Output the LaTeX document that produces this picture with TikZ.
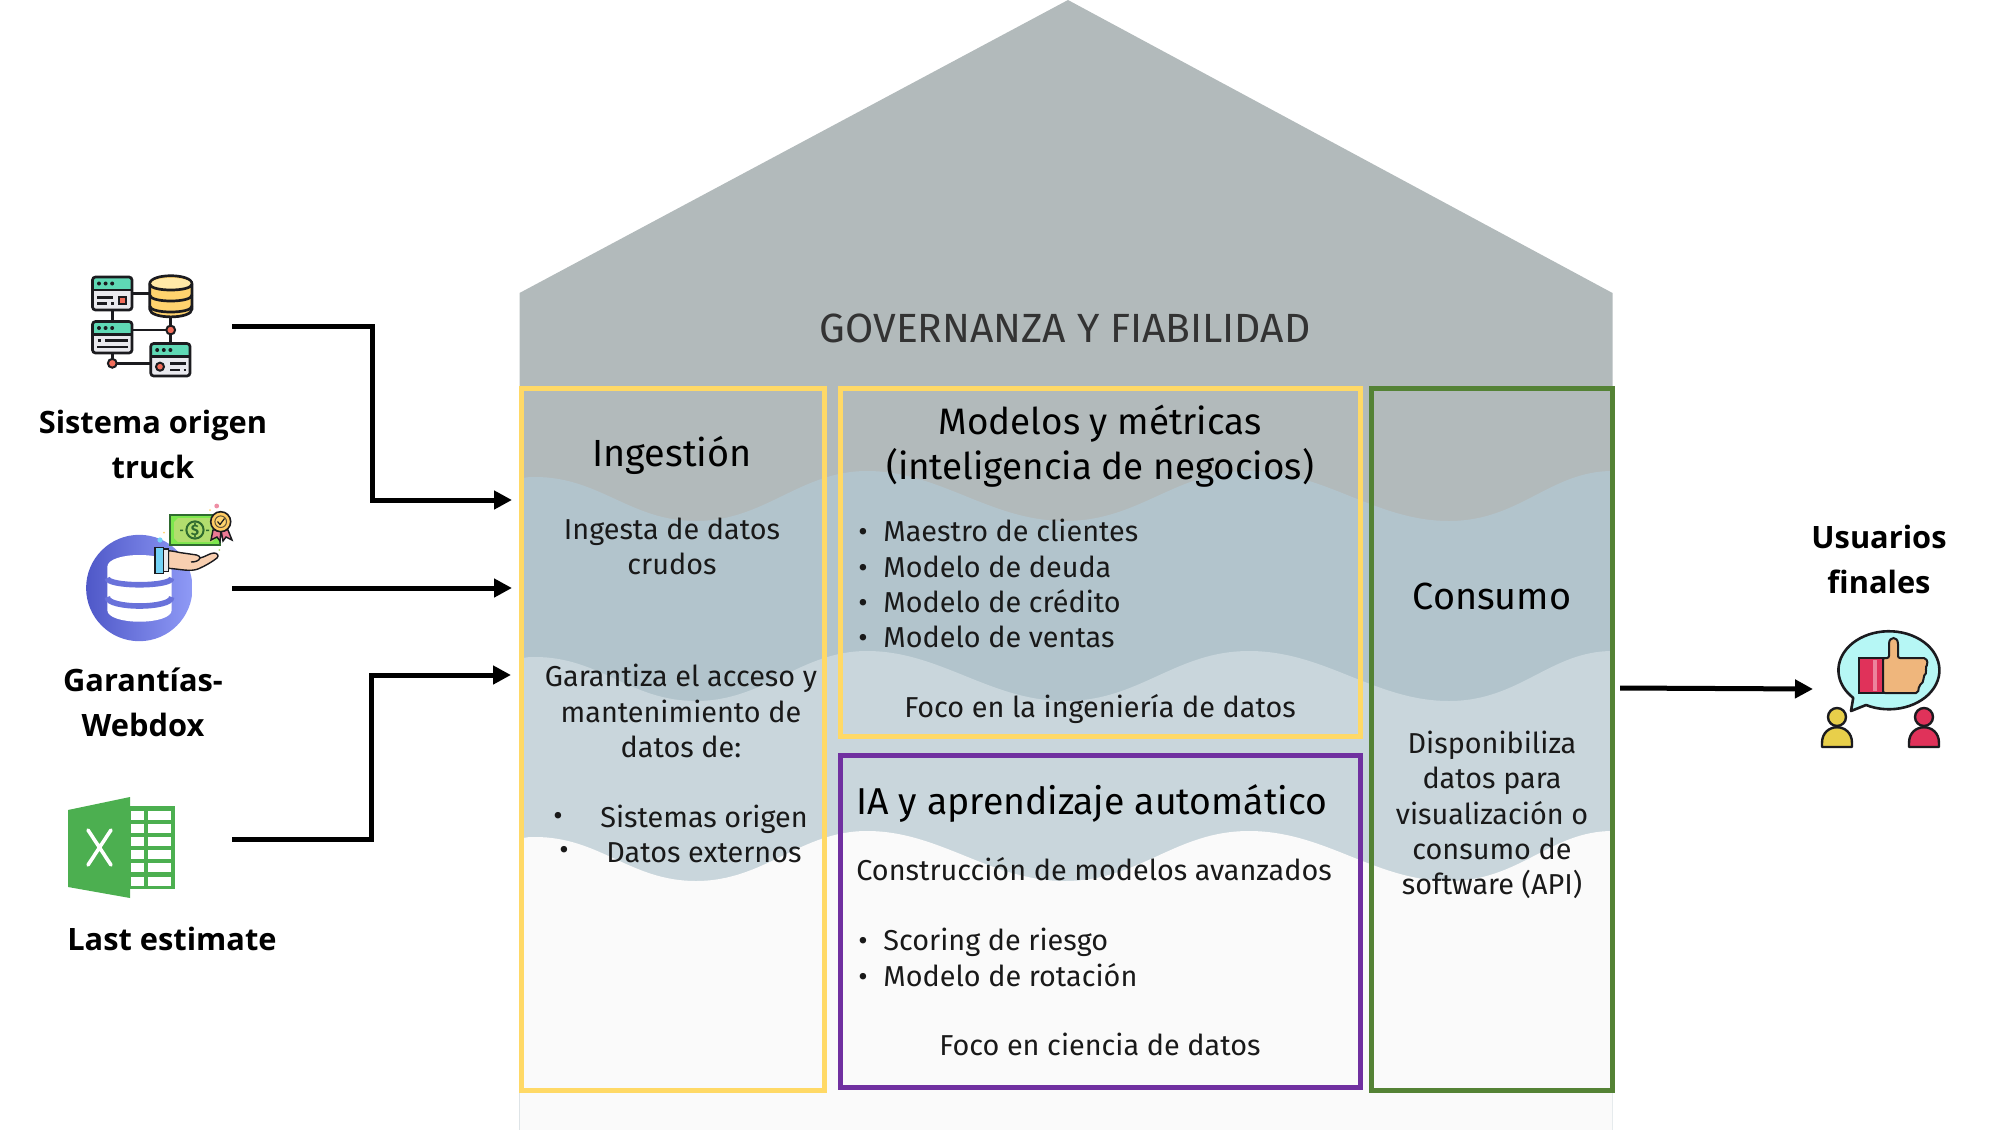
\documentclass[tikz,border=0pt]{standalone}
\usepackage{fontspec}
\setmainfont{Fira Sans}
\newfontfamily\labelfont{Open Sans}
\usetikzlibrary{arrows.meta, positioning}

\definecolor{roofgray}{HTML}{B2BABB}
\definecolor{waveblue}{HTML}{B2C4CC}
\definecolor{wavepale}{HTML}{C9D6DC}
\definecolor{wavewhite}{HTML}{FAFAFA}
\definecolor{boxyellow}{HTML}{FFD966}
\definecolor{boxpurple}{HTML}{7030A0}
\definecolor{boxgreen}{HTML}{548235}
\definecolor{icondark}{HTML}{1B1B1F}
\definecolor{iconteal}{HTML}{5FD9B5}
\definecolor{iconsheet}{HTML}{E9E9EE}
\definecolor{icongold}{HTML}{FFD36E}
\definecolor{iconlid}{HTML}{FFE9A8}
\definecolor{iconred}{HTML}{E0325A}
\definecolor{iconcoral}{HTML}{F26D5B}
\definecolor{iconskin}{HTML}{EFB67C}
\definecolor{handskin}{HTML}{F8CFB0}
\definecolor{iconbubble}{HTML}{B6F7F5}
\definecolor{iconmustard}{HTML}{E8CF4A}
\definecolor{excelgreen}{HTML}{4CAF50}
\definecolor{dbleft}{HTML}{4F58C8}
\definecolor{dbright}{HTML}{8F9AF6}
\definecolor{billgreen}{HTML}{B2DD6E}
\definecolor{billdark}{HTML}{2F6B2F}

\tikzset{
  zone/.style={draw, line width=2.5pt, inner sep=0pt, fill=none},
  bodytext/.style={font=\fontsize{14.4}{17.6}\selectfont, align=center, inner sep=0pt, text=black!90},
  listtext/.style={bodytext, align=left, anchor=north west},
  headtext/.style={font=\fontsize{18.9}{22.7}\selectfont, align=center, inner sep=0pt},
  sourcetext/.style={font=\labelfont\bfseries\fontsize{15.4}{22.5}\selectfont, align=center, inner sep=0pt},
  link/.style={line width=2.5pt, -{Triangle[length=9pt,width=9pt]}},
  iconline/.style={draw=icondark, line width=1.35pt},
  iconthin/.style={draw=icondark, line width=1pt},
}

% one wave band, filled down to the foot of the house
\newcommand{\waveband}[2]{
  \fill[#1, shift={(0,#2)}] (519.5,479) .. controls (526,477) and (530,477) .. (535,477)
    .. controls (600,477) and (630,521) .. (696,521)
    .. controls (765,521) and (800,471) .. (867,471)
    .. controls (940,471) and (990,521) .. (1065,521)
    .. controls (1140,521) and (1175,471) .. (1249,471)
    .. controls (1325,471) and (1375,521) .. (1449,521)
    .. controls (1520,521) and (1550,471) .. (1612.5,471)
    -- (1612.5,{1130-#2}) -- (519.5,{1130-#2}) -- cycle;
}
% small window of the server icon
\newcommand{\serverwin}[4]{
  \fill[iconsheet, rounded corners=1.5pt] (#1,#2) rectangle (#3,#4);
  \fill[iconteal, rounded corners=1.5pt] (#1,#2) rectangle (#3,#2+13);
  \draw[iconline] (#1,#2+13) -- (#3,#2+13);
  \draw[iconline, rounded corners=1.5pt] (#1,#2) rectangle (#3,#4);
  \foreach \k in {0,1,2} \fill[icondark] (#1+6.5+\k*6.6,#2+6.5) circle (1pt);
}
\newcommand{\bul}{\makebox[12.5pt][l]{•}}

\begin{document}
\begin{tikzpicture}[x=0.5pt,y=-0.5pt]
  \useasboundingbox (0,0) rectangle (1994,1130);

  % house
  \fill[roofgray] (519.5,293) -- (1068,0) -- (1612.5,293) -- (1612.5,1130) -- (519.5,1130) -- cycle;
  \waveband{waveblue}{0}
  \waveband{wavepale}{180}
  \waveband{wavewhite}{360}

  \node[font=\fontsize{20.4}{24}\selectfont, text=black!80, inner sep=0pt] (gov) at (1065,328) {GOVERNANZA Y FIABILIDAD};

  % zones
  \node[zone, draw=boxyellow, minimum width=151.5pt, minimum height=351pt] (ingest) at (673,739.5) {};
  \node[zone, draw=boxyellow, minimum width=260pt, minimum height=174pt] (models) at (1100.5,562) {};
  \node[zone, draw=boxpurple, minimum width=260pt, minimum height=166.25pt] (iazone) at (1100.5,921.25) {};
  \node[zone, draw=boxgreen, minimum width=120.5pt, minimum height=351pt] (consume) at (1492,739) {};

  \node[headtext] (ingesttitle) at (672,455) {Ingestión};
  \node[bodytext] (ingesta) at (672,546) {Ingesta de datos\\crudos};
  \node[bodytext] (garantiza) at (681,711) {Garantiza el acceso y\\mantenimiento de\\datos de:};
  \node[bodytext, anchor=west] (bulla) at (553,819) {•};
  \node[bodytext, anchor=west] (bullb) at (559,853) {•};
  \node[bodytext, anchor=west] (sistemas) at (600,819) {Sistemas origen};
  \node[bodytext, anchor=west] (externos) at (606,853) {Datos externos};

  \node[headtext, font=\fontsize{18.4}{22.7}\selectfont] (modeltitle) at (1100,446) {Modelos y métricas\\(inteligencia de negocios)};
  \node[listtext] (modellist) at (858,519) {\bul Maestro de clientes\\\bul Modelo de deuda\\\bul Modelo de crédito\\\bul Modelo de ventas};
  \node[bodytext] (focoing) at (1100,709) {Foco en la ingeniería de datos};

  \node[headtext, anchor=west, font=\fontsize{18.7}{22.7}\selectfont] (iatitle) at (856,803) {IA y aprendizaje automático};
  \node[bodytext, anchor=west] (avanzados) at (856,869) {Construcción de modelos avanzados};
  \node[listtext] (ialist) at (858,928) {\bul Scoring de riesgo\\\bul Modelo de rotación};
  \node[bodytext] (focoia) at (1100,1044) {Foco en ciencia de datos};

  \node[headtext] (consumotitle) at (1492,596) {Consumo};
  \node[bodytext] (dispon) at (1492,815) {Disponibiliza\\datos para\\visualización o\\consumo de\\software (API)};

  % sources
  \node[sourcetext] (sistema) at (153,444) {Sistema origen\\truck};
  \node[sourcetext] (garantias) at (143,702) {Garantías-\\Webdox};
  \node[sourcetext] (lastest) at (172,939) {Last estimate};
  \node[sourcetext] (usuarios) at (1879,559) {Usuarios\\finales};

  % icon: servers and database
  \draw[iconline] (132,293.3) -- (150,293.3) (112.3,310) -- (112.3,321.5) (132,330) -- (170.7,330)
    (170.7,316) -- (170.7,343.5) (112.3,353) -- (112.3,363.3) -- (150.7,363.3);
  \serverwin{92.5}{277}{132}{310}
  \serverwin{92.5}{321.5}{132}{353}
  \serverwin{150.7}{343.5}{190}{376}
  \draw[iconline] (97.3,297.3) -- (113,297.3) (97.3,303.3) -- (106.7,303.3) (111,303.3) -- (113.5,303.3)
    (97.5,340.3) -- (100.5,340.3) (105,340.3) -- (127.7,340.3) (97.3,347) -- (127.7,347)
    (170,363.3) -- (186,363.3) (170,370) -- (180,370) (183.5,370) -- (186,370);
  \draw[iconthin, fill=iconcoral] (118.5,296.5) rectangle (126,303.8);
  \draw[iconthin, fill=iconcoral] (160,366.7) circle (2pt);
  \draw[iconthin, fill=iconcoral] (170.7,330) circle (2.2pt) (112.3,363.3) circle (2.2pt);
  \draw[iconline, fill=icongold] (149.7,284) -- (149.7,309) .. controls (149.7,319.5) and (192,319.5) .. (192,309) -- (192,284)
    .. controls (192,273) and (149.7,273) .. (149.7,284) -- cycle;
  \fill[iconlid] (151,284) .. controls (151,276) and (191,276) .. (191,284) .. controls (191,291) and (151,291) .. (151,284) -- cycle;
  \draw[iconline] (149.7,284) .. controls (149.7,292) and (192,292) .. (192,284)
    (149.7,295) .. controls (149.7,303) and (192,303) .. (192,295)
    (149.7,306) .. controls (149.7,314) and (192,314) .. (192,306);

  % icon: guarantee database
  \shade[left color=dbleft, right color=dbright] (139.3,588) circle (26.6pt);
  \fill[white] (107.3,567) -- (107.3,610) .. controls (107.3,625.6) and (171.7,625.6) .. (171.7,610) -- (171.7,567)
    .. controls (171.7,551) and (107.3,551) .. (107.3,567) -- cycle;
  \draw[dbleft!60!dbright, line width=2.8pt] (107.3,578) .. controls (107.3,587) and (171.7,587) .. (171.7,578)
    (107.3,597) .. controls (107.3,609) and (171.7,609) .. (171.7,597);
  \draw[billdark, fill=billgreen!70!green, line width=1pt] (170,515) rectangle (220,545);
  \draw[draw=none, fill=billgreen] (178,518) -- (212,518) -- (216,522) -- (216,538) -- (212,542) -- (178,542) -- (174,538) -- (174,522) -- cycle;
  \draw[billdark, line width=1pt] (195,530) circle (4.3pt);
  \node[font=\fontsize{7.5}{7.5}\selectfont\bfseries, text=billdark, inner sep=0pt] (dollar) at (195,530) {\$};
  \fill[billdark] (180,529.5) rectangle (183,531) (206,529.5) rectangle (209,531);
  \draw[icondark, line width=0.7pt, fill=iconred!65] (213,530) -- (211,540) -- (217,537) -- (220,541) -- (221,530) -- (223,541) -- (226,537) -- (232,540) -- (228,530) -- cycle;
  \draw[icondark, line width=0.8pt, fill=icongold!90!orange] (220.7,521.7) circle (5pt);
  \draw[icondark!70!icongold, line width=0.5pt, fill=icongold] (220.7,521.7) circle (2.9pt);
  \draw[icondark, line width=0.6pt] (217.5,521.5) -- (220,524.5) -- (224.5,518.5);
  \fill[iconred!55] (216.7,506) circle (1.2pt);
  \fill[cyan!55] (160,540) circle (1.3pt);
  \fill[icongold] (164,532.7) circle (0.5pt) (210,510) circle (0.5pt);
  \fill[billgreen] (219.3,550) circle (0.5pt);
  \draw[icondark, line width=0.7pt, fill=handskin] (168.3,550.7) .. controls (175,551) and (180,553) .. (183,553) -- (196.7,555)
    .. controls (199,555.5) and (200,557) .. (200,558) .. controls (205,557) and (210,553) .. (214,553)
    .. controls (218,553) and (219,556) .. (217,558) .. controls (212,562) and (205,566) .. (198,569)
    .. controls (190,572) and (180,569) .. (168.3,568.3) -- cycle;
  \draw[icondark, line width=0.7pt] (200,558) .. controls (199,561) and (195,562) .. (191,562);
  \draw[icondark, line width=0.7pt, fill=cyan!55] (155,547.3) rectangle (163.3,573.3);
  \draw[icondark, line width=0.7pt, fill=iconsheet] (163.3,549) rectangle (168.3,571.7);

  % icon: spreadsheet
  \fill[excelgreen] (130,806) rectangle (175,889);
  \foreach \r in {0,...,5}{
    \fill[white] (131,{810.5+\r*13.2}) rectangle (144,{819.5+\r*13.2});
    \fill[white] (148,{810.5+\r*13.2}) rectangle (171,{819.5+\r*13.2});
  }
  \fill[excelgreen] (68,810) -- (130,797) -- (130,898) -- (68,887) -- cycle;
  \draw[white, line width=1.8pt, line cap=round] (88,830) -- (111,865) (111,830) -- (88,865);

  % icon: end users
  \draw[icondark, line width=1.3pt, fill=iconbubble, line join=round] (1866,705)
    arc[x radius=25.25pt, y radius=19.5pt, start angle=-117, delta angle=342] -- (1851,711) -- cycle;
  \draw[icondark, line width=1pt, fill=iconred] (1859,658) rectangle (1883,693);
  \fill[iconred!60!white] (1873,660) rectangle (1877,691);
  \draw[icondark, line width=1pt, fill=iconskin, rounded corners=1pt] (1883,658) -- (1889,658) -- (1889,646)
    .. controls (1889,636) and (1898,636) .. (1898,646) -- (1898,658) -- (1926,658) -- (1928,664) -- (1925,668)
    -- (1927,672) -- (1923,677) -- (1924,681) -- (1919,686) -- (1918,693) -- (1883,693) -- cycle;
  \foreach \px/\pc in {1837/iconmustard, 1924/iconred}{
    \draw[icondark, line width=1.2pt, fill=\pc] (\px,717) circle (4.5pt);
    \draw[icondark, line width=1.2pt, fill=\pc, line join=round] (\px-15,747) -- (\px-15,743) .. controls (\px-15,722) and (\px+15,722) .. (\px+15,743) -- (\px+15,747) -- cycle;
  }

  % connectors
  \coordinate (sistemaout) at (232,326);
  \coordinate (garantiasout) at (232,588);
  \coordinate (lastout) at (232,839);
  \coordinate (ingestina) at (512,500);
  \coordinate (ingestinb) at (512,588);
  \coordinate (ingestinc) at (511,675);
  \coordinate (consumeout) at (1620,688);
  \coordinate (usersin) at (1813,689);
  \draw[link] (sistemaout) -- (372,326) |- (ingestina);
  \draw[link] (garantiasout) -- (ingestinb);
  \draw[link] (lastout) -- (371,839) |- (ingestinc);
  \draw[link] (consumeout) -- (usersin);
\end{tikzpicture}
\end{document}
